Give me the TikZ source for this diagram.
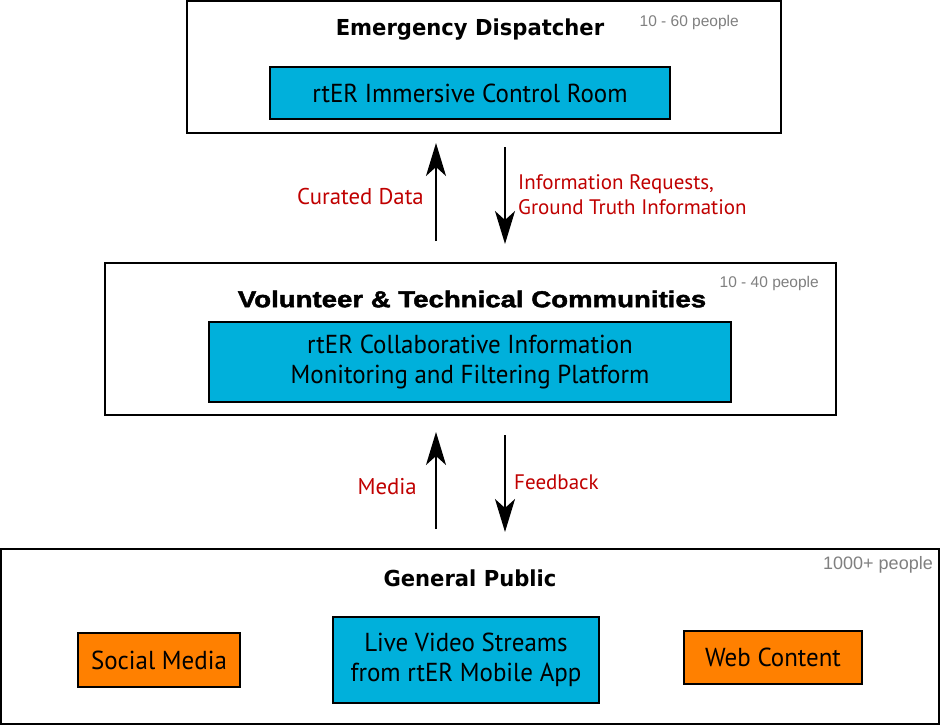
\documentclass[tikz,border=0pt]{standalone}
\usepackage{fontspec}
\usetikzlibrary{arrows.meta}
\setmainfont{Liberation Sans}
\newfontfamily\titlefont{DejaVu Sans}[FakeStretch=0.96]
\newfontfamily\blackfont{Liberation Sans}[FakeBold=2,FakeStretch=1.2]
\newfontfamily\narrowfont{PT Sans}[FakeStretch=0.96]
\newfontfamily\labelfont{PT Sans}
\newfontfamily\grayfont{Liberation Sans}
\definecolor{boxcyan}{RGB}{0,176,219}
\definecolor{boxorange}{RGB}{255,128,0}
\definecolor{lblred}{RGB}{192,0,0}
\definecolor{pplgray}{RGB}{128,128,128}
\tikzset{
  outerbox/.style={draw=black, line width=2pt, fill=white, inner sep=0pt},
  cyanbox/.style={draw=black, line width=2.2pt, fill=boxcyan, inner sep=0pt, align=center,
    font=\narrowfont\fontsize{26}{30}\selectfont},
  orangebox/.style={draw=black, line width=2.2pt, fill=boxorange, inner sep=0pt, align=center,
    font=\narrowfont\fontsize{26}{30}\selectfont},
  ttl/.style={font=\titlefont\bfseries\fontsize{22}{26}\selectfont, inner sep=0pt},
  ppl/.style={font=\grayfont\fontsize{15.5}{18}\selectfont, text=pplgray, inner sep=0pt},
  lbl/.style={font=\labelfont\fontsize{21}{25}\selectfont, text=lblred, inner sep=0pt, align=left},
  lblL/.style={lbl, font=\labelfont\fontsize{22.8}{25}\selectfont},
  arr/.style={line width=2pt, -{Stealth[length=33pt, width=20pt, inset=9pt]}},
}
\begin{document}
\begin{tikzpicture}[x=1pt,y=-1pt]
\useasboundingbox (0,0) rectangle (941,726);
\fill[white] (0,0) rectangle (941,726);

% top box
\node[outerbox, minimum width=594, minimum height=132] (top) at (484,67) {};
\node[ttl] (toptitle) at (470,30) {Emergency Dispatcher};
\node[ppl, anchor=east] (topppl) at (739,22) {10 - 60 people};
\node[cyanbox, minimum width=400, minimum height=52] (icr) at (470,93) {rtER Immersive Control Room};

% middle box
\node[outerbox, minimum width=731, minimum height=152] (mid) at (470.5,339) {};
\node[font=\blackfont\bfseries\fontsize{23}{26}\selectfont, inner sep=0pt] (midtitle) at (472,299) {Volunteer \& Technical Communities};
\node[ppl, anchor=east] (midppl) at (819,283) {10 - 40 people};
\node[cyanbox, minimum width=522, minimum height=80] (cim) at (470,362) {rtER Collaborative Information\\Monitoring and Filtering Platform};

% bottom box
\node[outerbox, minimum width=938, minimum height=175] (bot) at (470,636.5) {};
\node[ttl] (bottitle) at (470,578) {General Public};
\node[ppl, anchor=east, font=\grayfont\fontsize{18}{20}\selectfont] (botppl) at (933,565) {1000+ people};
\node[orangebox, minimum width=162, minimum height=54] (sm) at (159,660) {Social Media};
\node[cyanbox, minimum width=266, minimum height=86] (lvs) at (466,660) {Live Video Streams\\from rtER Mobile App};
\node[orangebox, minimum width=178, minimum height=53] (web) at (773,657.5) {Web Content};

% arrows top <-> middle
\coordinate (u1s) at (436,241);
\coordinate (u1e) at (436,143);
\coordinate (d1s) at (505,147);
\coordinate (d1e) at (505,244);
\draw[arr] (u1s) -- (u1e);
\draw[arr] (d1s) -- (d1e);
\node[lblL, anchor=east] (curated) at (424,197) {Curated Data};
\node[lbl, anchor=west] (inforeq) at (518,195) {Information Requests,\\Ground Truth Information};

% arrows middle <-> bottom
\coordinate (u2s) at (436,529);
\coordinate (u2e) at (436,432);
\coordinate (d2s) at (505,435);
\coordinate (d2e) at (505,532);
\draw[arr] (u2s) -- (u2e);
\draw[arr] (d2s) -- (d2e);
\node[lblL, anchor=east] (media) at (417,487) {Media};
\node[lbl, anchor=west] (feedback) at (514,482) {Feedback};
\end{tikzpicture}
\end{document}
